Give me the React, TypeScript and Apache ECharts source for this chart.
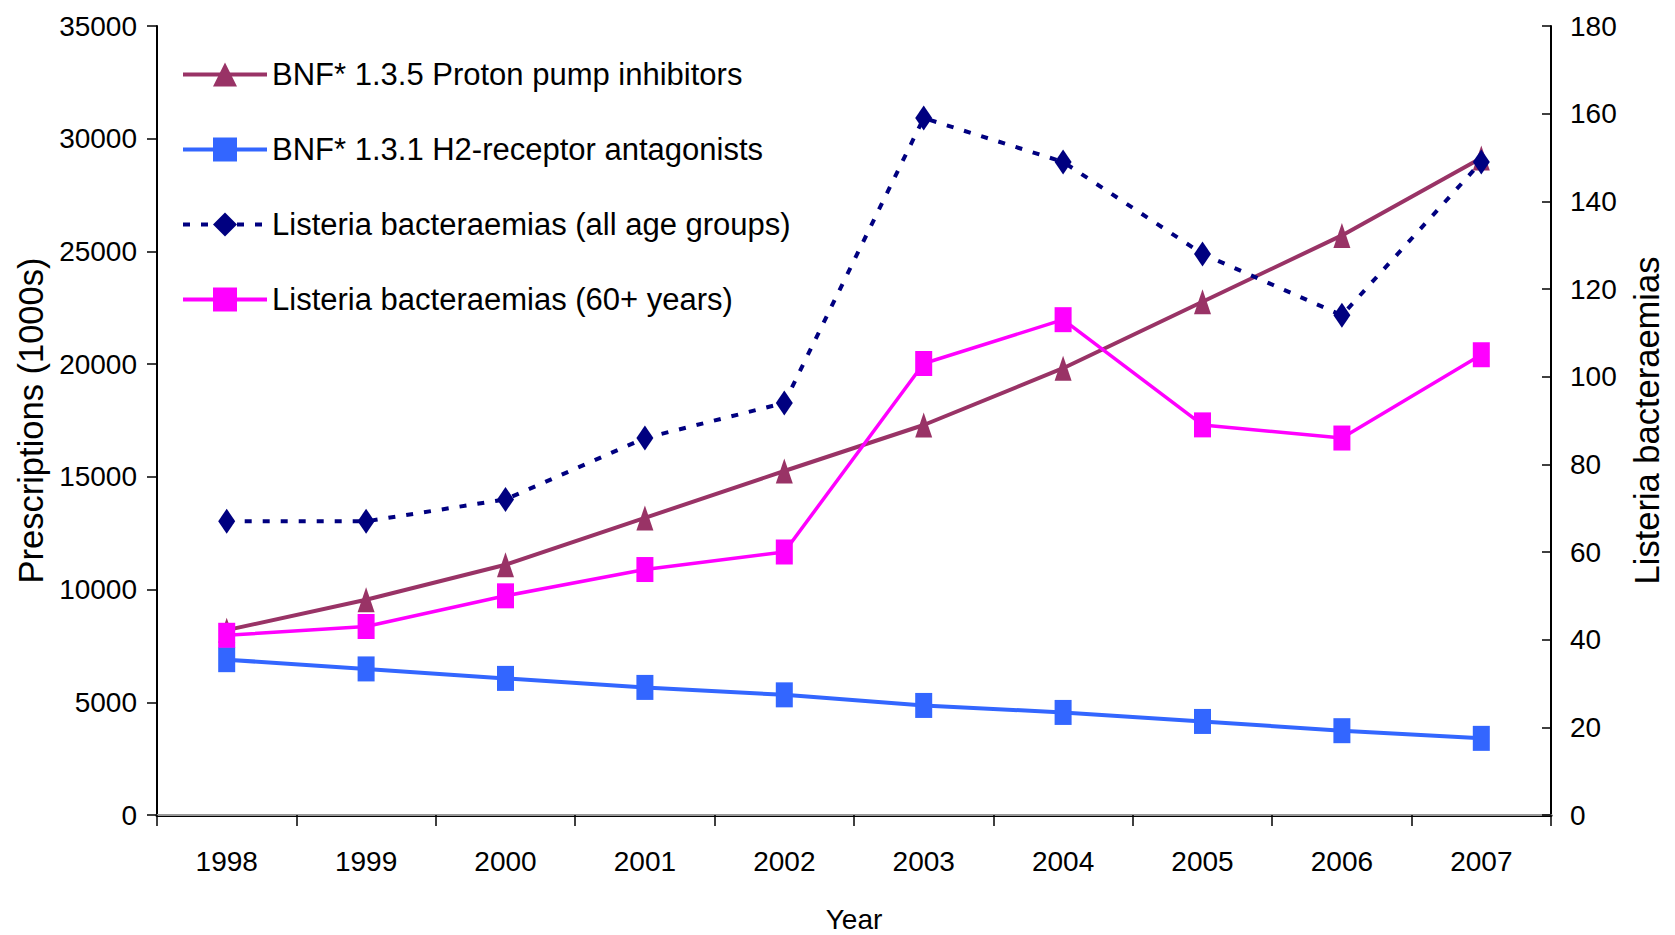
import React, { useEffect, useRef } from "react";
import * as echarts from "echarts";

const years = ["1998", "1999", "2000", "2001", "2002", "2003", "2004", "2005", "2006", "2007"];
const ppiValues = [8200, 9550, 11100, 13180, 15260, 17300, 19820, 22770, 25710, 29140];
const h2Values = [6890, 6480, 6060, 5660, 5330, 4860, 4550, 4150, 3740, 3400];
const listeriaAll = [67, 67, 72, 86, 94, 159, 149, 128, 114, 149];
const listeria60 = [41, 43, 50, 56, 60, 103, 113, 89, 86, 105];

const seriesNames = [
  "BNF* 1.3.5 Proton pump inhibitors",
  "BNF* 1.3.1 H2-receptor antagonists",
  "Listeria bacteraemias (all age groups)",
  "Listeria bacteraemias (60+ years)",
];

const FONT = "'Liberation Sans', Arial, sans-serif";

export default function App() {
  const ref = useRef<HTMLDivElement>(null);
  useEffect(() => {
    document.body.style.margin = "0";
    if (!ref.current) return;
    const chart = echarts.init(ref.current, null, { renderer: "svg" });
    const sym: [number, number] = [17, 25];
    const plain = (v: number) => String(v);
    chart.setOption({
      animation: false,
      backgroundColor: "#ffffff",
      grid: { left: 157, right: 124, top: 26, bottom: 120, outerBoundsMode: "none", containLabel: false },
      legend: {
        orient: "vertical",
        left: 176,
        top: 54,
        itemWidth: 84,
        itemHeight: 30,
        itemGap: 44,
        lineStyle: { width: 4 },
        textStyle: { fontFamily: FONT, fontSize: 31, color: "#000" },
        data: seriesNames,
      },
      xAxis: [
        {
          type: "category",
          data: years,
          boundaryGap: true,
          position: "bottom",
          axisLine: { lineStyle: { color: "#000", width: 3 } },
          axisTick: { show: true, inside: false, length: 11, lineStyle: { color: "#000", width: 1.5 } },
          axisLabel: { fontFamily: FONT, fontSize: 28, color: "#000", margin: 32 },
          name: "Year",
          nameLocation: "middle",
          nameGap: 90,
          nameTextStyle: { fontFamily: FONT, fontSize: 28, color: "#000" },
          splitLine: { show: false },
        },
        {
          type: "category",
          data: years,
          position: "top",
          axisLine: { show: true, lineStyle: { color: "#999", width: 2 } },
          axisTick: { show: false },
          axisLabel: { show: false },
          splitLine: { show: false },
        },
      ],
      yAxis: [
        {
          type: "value",
          min: 0,
          max: 35000,
          interval: 5000,
          position: "left",
          axisLine: { show: true, lineStyle: { color: "#000", width: 2 } },
          axisTick: { show: true, inside: false, length: 10, lineStyle: { color: "#000", width: 1.5 } },
          axisLabel: { fontFamily: FONT, fontSize: 28, color: "#000", margin: 20, formatter: plain },
          splitLine: { show: false },
          name: "Prescriptions (1000s)",
          nameLocation: "middle",
          nameRotate: 90,
          nameGap: 92,
          nameTextStyle: { fontFamily: FONT, fontSize: 34.5, color: "#000" },
        },
        {
          type: "value",
          min: 0,
          max: 180,
          interval: 20,
          position: "right",
          axisLine: { show: true, lineStyle: { color: "#000", width: 2 } },
          axisTick: { show: true, inside: true, length: 9, lineStyle: { color: "#000", width: 1.5 } },
          axisLabel: { fontFamily: FONT, fontSize: 28, color: "#000", margin: 19, formatter: plain },
          splitLine: { show: false },
          name: "Listeria bacteraemias",
          nameLocation: "middle",
          nameRotate: 90,
          nameGap: 78,
          nameTextStyle: { fontFamily: FONT, fontSize: 34.5, color: "#000" },
        },
      ],
      series: [
        {
          name: seriesNames[0],
          type: "line",
          data: ppiValues,
          yAxisIndex: 0,
          symbol: "triangle",
          symbolSize: sym,
          lineStyle: { color: "#993366", width: 4 },
          itemStyle: { color: "#993366" },
        },
        {
          name: seriesNames[1],
          type: "line",
          data: h2Values,
          yAxisIndex: 0,
          symbol: "rect",
          symbolSize: sym,
          lineStyle: { color: "#3366FF", width: 4 },
          itemStyle: { color: "#3366FF" },
        },
        {
          name: seriesNames[2],
          type: "line",
          data: listeriaAll,
          yAxisIndex: 1,
          symbol: "diamond",
          symbolSize: sym,
          lineStyle: { color: "#000080", width: 4, type: [7, 11] },
          itemStyle: { color: "#000080" },
        },
        {
          name: seriesNames[3],
          type: "line",
          data: listeria60,
          yAxisIndex: 1,
          symbol: "rect",
          symbolSize: sym,
          lineStyle: { color: "#FF00FF", width: 3.5 },
          itemStyle: { color: "#FF00FF" },
        },
      ],
    });
    return () => chart.dispose();
  }, []);
  return <div ref={ref} style={{ width: 1675, height: 935 }} />;
}
